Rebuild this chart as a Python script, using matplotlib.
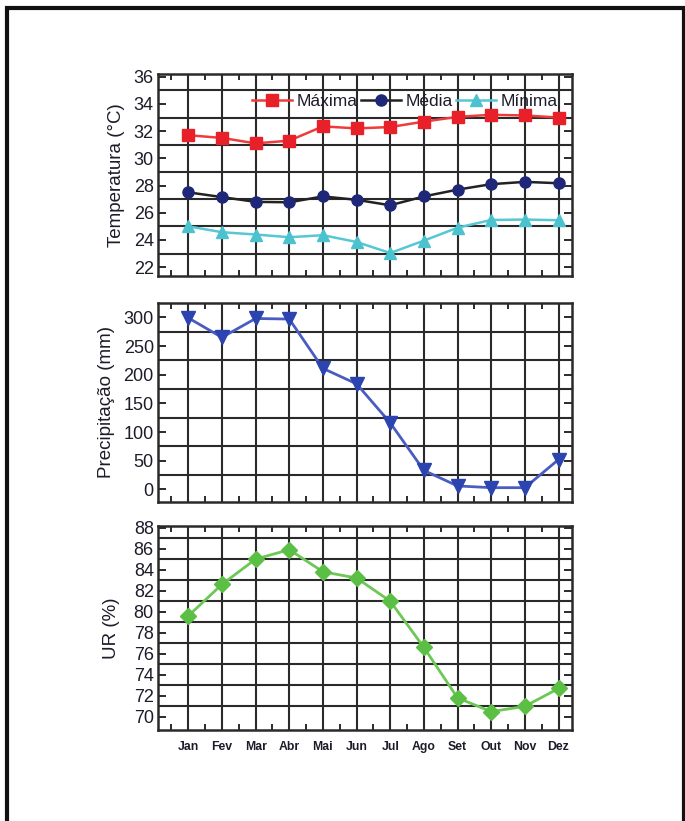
import numpy as np
import matplotlib
matplotlib.use('Agg')
import matplotlib.pyplot as plt
from matplotlib.ticker import FixedLocator
from matplotlib.patches import Rectangle

months = ['Jan', 'Fev', 'Mar', 'Abr', 'Mai', 'Jun', 'Jul', 'Ago', 'Set', 'Out', 'Nov', 'Dez']
t_max = [31.7, 31.5, 31.1, 31.3, 32.35, 32.2, 32.3, 32.7, 33.05, 33.2, 33.15, 33.0]
t_med = [27.5, 27.15, 26.8, 26.77, 27.2, 26.95, 26.55, 27.2, 27.7, 28.1, 28.27, 28.17]
t_min = [25.0, 24.57, 24.4, 24.2, 24.35, 23.85, 23.04, 23.95, 24.9, 25.47, 25.5, 25.45]
precip = [299, 265, 298, 297, 211, 184, 116, 33, 6, 3, 3, 52]
ur = [79.6, 82.6, 85.0, 85.9, 83.8, 83.2, 81.0, 76.6, 71.8, 70.5, 71.0, 72.7]

temp_ticks = [22, 24, 26, 28, 30, 32, 34, 36]
precip_ticks = [0, 50, 100, 150, 200, 250, 300]
ur_ticks = [70, 72, 74, 76, 78, 80, 82, 84, 86, 88]

plt.rcParams['font.family'] = ['Liberation Sans', 'DejaVu Sans']

W, H = 685, 821
fig = plt.figure(figsize=(W / 100, H / 100), dpi=100)

def fbox(left, top, right, bottom):
    return [left / W, 1 - bottom / H, (right - left) / W, (bottom - top) / H]

x = np.arange(len(months))
GRID = '#2a2a2a'
TXT = '#1c1c2a'

def style(ax, ylim, yticks, ygrid, show_x=False):
    ax.set_xlim(-0.9, 11.4)
    ax.set_ylim(*ylim)
    ax.xaxis.set_major_locator(FixedLocator(x))
    ax.xaxis.set_minor_locator(FixedLocator(np.arange(-0.5, 11.5, 1.0)))
    ax.yaxis.set_major_locator(FixedLocator(yticks))
    ax.yaxis.set_minor_locator(FixedLocator(ygrid))
    ax.grid(axis='x', which='major', color=GRID, lw=1.5)
    ax.grid(axis='y', which='minor', color=GRID, lw=1.5)
    ax.set_axisbelow(True)
    ax.tick_params(axis='both', which='major', direction='in', top=True, right=True,
                   length=6, width=1.4, color=GRID)
    ax.tick_params(axis='x', which='minor', direction='in', top=True, bottom=True,
                   length=4, width=1.4, color=GRID)
    ax.tick_params(axis='y', which='minor', length=0)
    ax.tick_params(axis='y', labelsize=13, pad=3, labelcolor=TXT)
    if show_x:
        ax.set_xticklabels(months, fontsize=8.8, fontweight='bold', color=TXT)
        ax.tick_params(axis='x', pad=8)
    else:
        ax.set_xticklabels([])
    for s in ax.spines.values():
        s.set_linewidth(1.8)
        s.set_color(GRID)

# Temperature
ax1 = fig.add_axes(fbox(158, 74, 572, 276))
l1, = ax1.plot(x, t_max, color='#ee3b3b', lw=1.8, marker='s', ms=8,
               mfc='#e8202a', mec='#e8202a', label='Máxima')
l2, = ax1.plot(x, t_med, color='#222222', lw=1.8, marker='o', ms=8,
               mfc='#1f2878', mec='#1f2878', label='Média')
l3, = ax1.plot(x, t_min, color='#55c8d4', lw=1.8, marker='^', ms=9,
               mfc='#4cc2cf', mec='#4cc2cf', label='Mínima')
style(ax1, (21.35, 36.2), temp_ticks, list(range(23, 36, 2)))
ax1.set_ylabel('Temperatura (°C)', fontsize=13.5, color=TXT, labelpad=6)
ax1.legend(handles=[l1, l2, l3], ncol=3, loc='center right',
           bbox_to_anchor=(0.965, 0.865), frameon=False, fontsize=12.5,
           handlelength=2.3, handletextpad=0.25, columnspacing=0.2,
           borderpad=0, borderaxespad=0, labelcolor=TXT)

# Precipitation
ax2 = fig.add_axes(fbox(158, 303, 572, 502))
ax2.plot(x, precip, color='#4a5cc0', lw=2.0, marker='v', ms=9.5,
         mfc='#2b44b0', mec='#2b44b0')
style(ax2, (-22, 325), precip_ticks, list(range(25, 300, 50)))
ax2.set_ylabel('Precipitação (mm)', fontsize=13.5, color=TXT, labelpad=6)

# Relative humidity
ax3 = fig.add_axes(fbox(158, 526, 572, 730))
ax3.plot(x, ur, color='#6cc855', lw=2.0, marker='D', ms=8.5,
         mfc='#5cbf45', mec='#5cbf45')
style(ax3, (68.75, 88.15), ur_ticks, list(range(71, 88, 2)), show_x=True)
ax3.set_ylabel('UR (%)', fontsize=13.5, color=TXT, labelpad=10)

# outer frame
fig.patches.append(Rectangle((7 / W, -0.05), (684 - 7) / W, 1.05 - 8 / H,
                             transform=fig.transFigure, fill=False,
                             lw=3, edgecolor='#111111'))

fig.savefig('out.png', dpi=100)
